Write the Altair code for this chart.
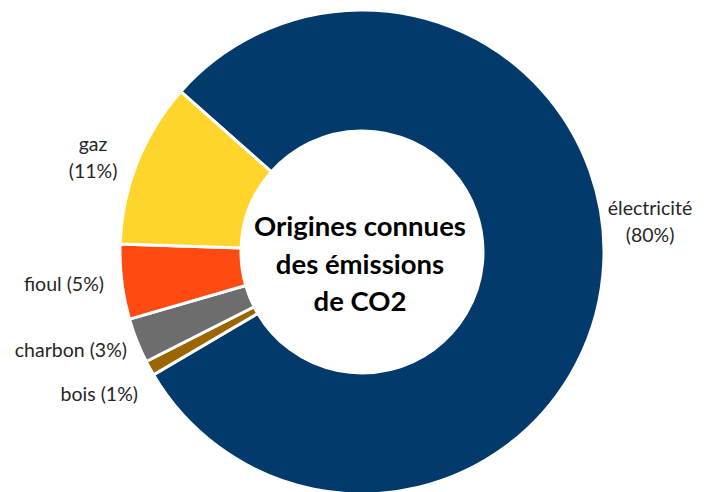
import altair as alt
import pandas as pd
import math

categories = ["électricité", "bois", "charbon", "fioul", "gaz"]
values = [80, 1, 3, 5, 11]
colors = ["#023A6B", "#9C6500", "#6D6D6D", "#FF4B12", "#FFD52B"]
label_texts = ["électricité\n(80%)", "bois (1%)", "charbon (3%)", "fioul (5%)", "gaz\n(11%)"]
center_title = "Origines connues\ndes émissions\nde CO2"

df = pd.DataFrame({"cat": categories, "val": values, "order": list(range(len(categories)))})

start = math.radians(311.5)
CX, CY = 362, 252
FONT = "Lato"

donut = alt.Chart(df).mark_arc(
    outerRadius=242, innerRadius=121, stroke="white", strokeWidth=3
).encode(
    theta=alt.Theta("val:Q", stack=True, scale=alt.Scale(range=[start, start + 2 * math.pi])),
    order=alt.Order("order:Q"),
    color=alt.Color("cat:N", scale=alt.Scale(domain=categories, range=colors), legend=None),
    x=alt.value(CX),
    y=alt.value(CY),
)

# label placements (x, y of first line, align)
placements = [
    (650, 209, "center"),
    (138, 395, "right"),
    (127, 351, "right"),
    (104, 285, "right"),
    (93, 145, "center"),
]

layers = [donut]
for txt, (px, py, al) in zip(label_texts, placements):
    layers.append(
        alt.Chart(pd.DataFrame({"t": [txt]})).mark_text(
            font=FONT, fontSize=19.5, color="#262626", align=al, baseline="middle",
            lineBreak="\n", lineHeight=27
        ).encode(text="t:N", x=alt.value(px), y=alt.value(py))
    )

layers.append(
    alt.Chart(pd.DataFrame({"t": [center_title]})).mark_text(
        font=FONT, fontSize=27.5, fontWeight="bold", color="#000000", align="center",
        baseline="middle", lineBreak="\n", lineHeight=37.5
    ).encode(text="t:N", x=alt.value(360), y=alt.value(228))
)

chart = alt.layer(*layers).properties(
    width=704, height=492, autosize=alt.AutoSizeParams(type="none"), padding=0
).configure_view(stroke=None)

chart.save("out.html", embed_options={"renderer": "svg", "actions": False})
